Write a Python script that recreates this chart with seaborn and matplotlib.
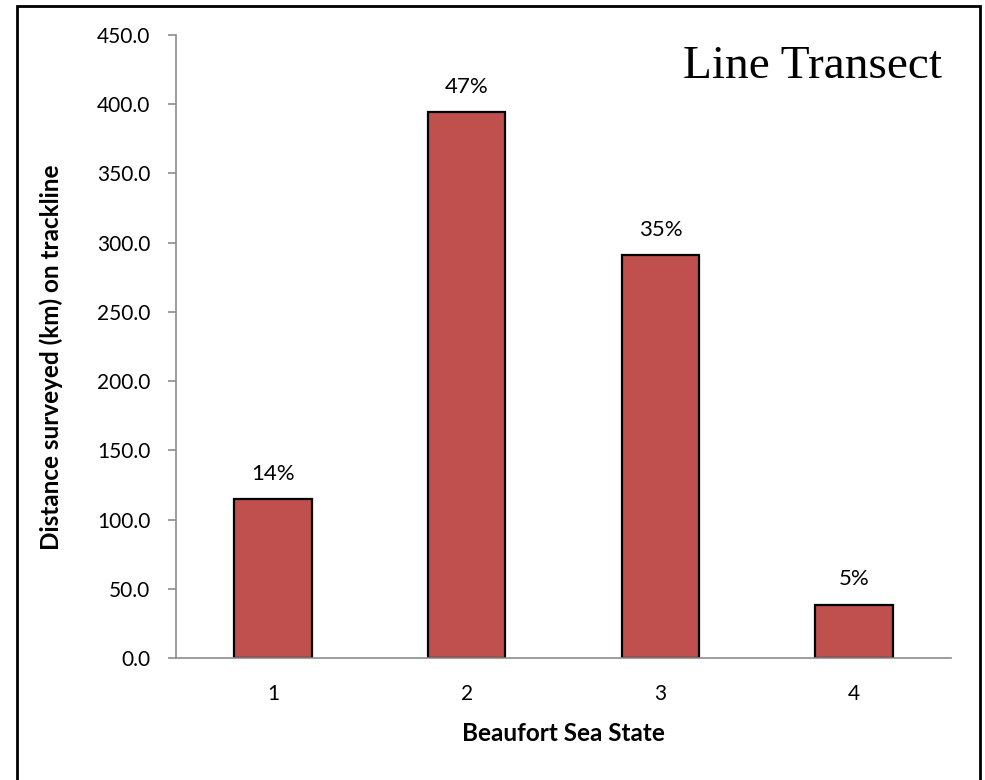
import matplotlib
matplotlib.use("Agg")
import matplotlib.pyplot as plt
import seaborn as sns
import pandas as pd
from matplotlib.patches import Rectangle
from matplotlib.ticker import FormatStrFormatter

sea_state = ["1", "2", "3", "4"]
distance_km = [115.0, 394.5, 291.0, 38.5]
percent_labels = ["14%", "47%", "35%", "5%"]

df = pd.DataFrame({"sea_state": sea_state, "distance": distance_km})

sns.set_theme(style="white")
plt.rcParams["font.family"] = ["Lato", "DejaVu Sans"]
plt.rcParams["text.color"] = "black"
plt.rcParams["axes.labelcolor"] = "black"
plt.rcParams["xtick.labelcolor"] = "black"
plt.rcParams["ytick.labelcolor"] = "black"

fig = plt.figure(figsize=(9.85, 7.8), dpi=100)
ax = fig.add_axes([176 / 985, 1 - 658 / 780, (951 - 176) / 985, (658 - 35) / 780])

sns.barplot(data=df, x="sea_state", y="distance", color="#C0504D", saturation=1,
            edgecolor="black", linewidth=1.6, width=0.4, ax=ax)

for i, (v, lab) in enumerate(zip(distance_km, percent_labels)):
    ax.annotate(lab, (i, v), xytext=(0, 11), textcoords="offset points",
                ha="center", va="bottom", fontsize=16, color="black")

ax.set_xlim(-0.5, 3.5)
ax.set_ylim(0, 450)
ax.set_yticks(range(0, 451, 50))
ax.yaxis.set_major_formatter(FormatStrFormatter("%.1f"))
ax.set_xticks([-0.5, 0.5, 1.5, 2.5, 3.5], minor=True)
ax.tick_params(axis="x", which="major", length=0, pad=19, labelsize=15)
ax.tick_params(axis="x", which="minor", length=5, width=1.2, color="#8c8c8c", direction="out")
ax.tick_params(axis="y", which="major", length=5.5, width=1.2, color="#8c8c8c",
               direction="out", left=True, labelsize=15, pad=13)

for side in ["top", "right"]:
    ax.spines[side].set_visible(False)
for side in ["left", "bottom"]:
    ax.spines[side].set_color("#8c8c8c")
    ax.spines[side].set_linewidth(1.2)

ax.set_xlabel("Beaufort Sea State", fontsize=17.5, fontweight="bold", labelpad=13)
ax.set_ylabel("Distance surveyed (km) on trackline", fontsize=17.5, fontweight="bold")
ax.yaxis.set_label_coords((63 - 176) / 775, 0.483)

ax.text(942 / 985, 1 - 78 / 780, "Line Transect", transform=fig.transFigure,
        ha="right", va="baseline", fontsize=34, family="Liberation Serif", color="black")

fig.patches.append(Rectangle((17 / 985, -0.05), (980 - 17) / 985, 1.05 - 5.5 / 780,
                             transform=fig.transFigure, fill=False,
                             edgecolor="black", linewidth=2, zorder=10))

fig.savefig("out.png", dpi=100)
